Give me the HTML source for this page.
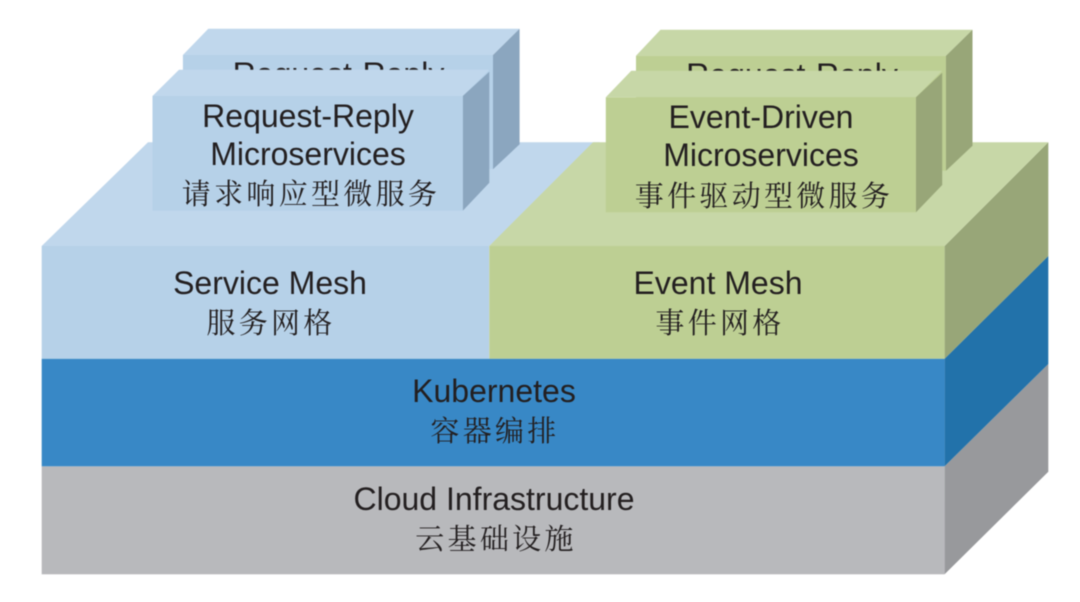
<!DOCTYPE html>
<html><head><meta charset="utf-8"><style>
html,body{margin:0;padding:0;background:#fff;width:1080px;height:602px;overflow:hidden}
svg{display:block;filter:blur(.4px)}
.e{font-family:"Liberation Sans",Arial,sans-serif;font-size:32px;fill:#231f20;text-anchor:middle}
.c{font-family:"Liberation Serif","Noto Serif CJK SC",serif;font-size:29px;fill:#231f20;text-anchor:middle;letter-spacing:3.3px}
</style></head><body>
<svg width="1080" height="602" viewBox="0 0 1080 602" xmlns="http://www.w3.org/2000/svg">
<rect width="1080" height="602" fill="#fff"/>
<!-- cloud -->
<polygon points="944.6,466.3 1048.3,364 1048.3,471.7 944.6,574.3" fill="#98999c"/>
<rect x="41.7" y="466.3" width="902.9" height="108" fill="#b8b9bc"/>
<!-- kubernetes -->
<polygon points="944.6,358.7 1048.3,256 1048.3,364 944.6,466.3" fill="#2272aa"/>
<rect x="41.7" y="358.7" width="902.9" height="107.6" fill="#3888c6"/>
<!-- mesh -->
<polygon points="944.6,246 1048.3,142.3 1048.3,256 944.6,358.7" fill="#98a678"/>
<polygon points="41.7,246 148,142.3 600,142.3 489.3,246" fill="#c0d7ec"/>
<polygon points="489.3,246 593,142.3 1048.3,142.3 944.6,246" fill="#c7d7a7"/>
<rect x="41.7" y="246" width="447.6" height="112.7" fill="#b6d1e8"/>
<rect x="489.3" y="246" width="455.3" height="112.7" fill="#bdcf93"/>
<!-- back blue box -->
<polygon points="182.9,55 208.3,28.7 519.6,28.7 493,55" fill="#c0d7ec"/>
<polygon points="493,55 519.6,28.7 519.6,144.3 493,169.3" fill="#8ba6bf"/>
<rect x="182.9" y="55" width="310.1" height="114" fill="#b6d1e8"/>
<text class="e" x="338.5" y="85">Request-Reply</text>
<!-- back green box -->
<polygon points="636,55.7 660.5,29.7 972.5,29.7 946,55.7" fill="#c7d7a7"/>
<polygon points="946,55.7 972.5,29.7 972.5,145.7 946,170.7" fill="#98a678"/>
<rect x="636" y="55.7" width="310" height="115" fill="#bdcf93"/>
<text class="e" x="792" y="86">Request-Reply</text>
<!-- front blue box -->
<polygon points="152.5,96 179,69.7 489.3,69.7 462.8,96" fill="#c0d7ec"/>
<polygon points="462.8,96 489.3,71.7 489.3,182.7 462.8,210.7" fill="#8ba6bf"/>
<rect x="152.5" y="96" width="310.3" height="114.7" fill="#b6d1e8"/>
<text class="e" x="308" y="127">Request-Reply</text>
<text class="e" x="308" y="165">Microservices</text>
<text class="c" x="311" y="204">请求响应型微服务</text>
<!-- front green box -->
<polygon points="605.8,97.3 631.3,70.7 942.2,70.7 916,97.3" fill="#c7d7a7"/>
<polygon points="916,97.3 942.2,72.7 942.2,185 916,212.3" fill="#98a678"/>
<rect x="605.8" y="97.3" width="310.2" height="115" fill="#bdcf93"/>
<text class="e" x="761" y="128">Event-Driven</text>
<text class="e" x="761" y="166">Microservices</text>
<text class="c" x="764" y="206">事件驱动型微服务</text>
<!-- layer labels -->
<text class="e" x="270" y="294">Service Mesh</text>
<text class="c" x="271" y="333">服务网格</text>
<text class="e" x="718" y="294">Event Mesh</text>
<text class="c" x="720" y="333">事件网格</text>
<text class="e" x="494" y="402">Kubernetes</text>
<text class="c" x="495" y="441">容器编排</text>
<text class="e" x="494" y="510">Cloud Infrastructure</text>
<text class="c" x="496" y="549">云基础设施</text>
</svg>
</body></html>
